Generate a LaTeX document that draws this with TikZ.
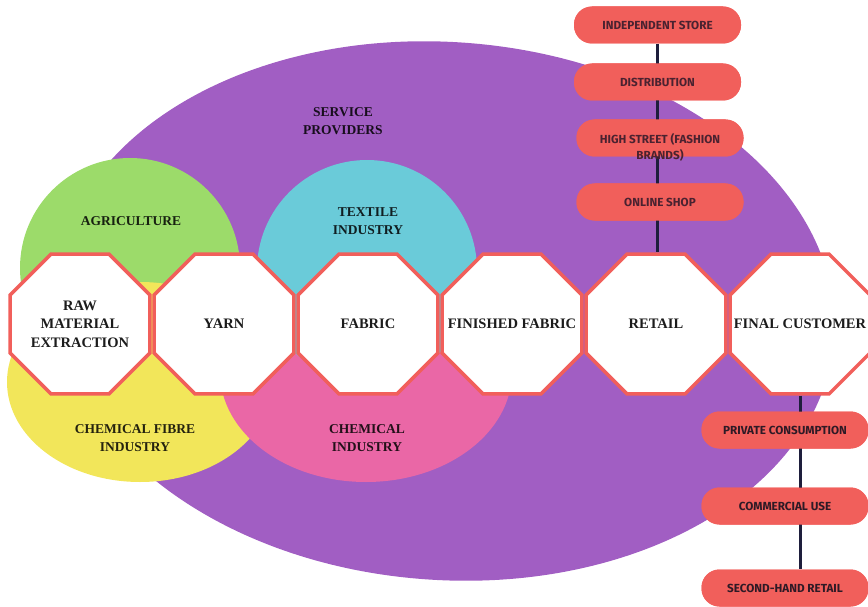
\documentclass[tikz,border=0pt]{standalone}
\usepackage{fontspec}
\setmainfont{Liberation Serif}
\newfontfamily\pillfont{Fira Sans}
\usetikzlibrary{shapes.geometric}
\definecolor{purp}{HTML}{A15EC3}
\definecolor{agr}{HTML}{9CDB6A}
\definecolor{cya}{HTML}{6ACBD9}
\definecolor{yel}{HTML}{F2E65A}
\definecolor{pnk}{HTML}{EA67A6}
\definecolor{redc}{HTML}{F15F5B}
\definecolor{octtext}{HTML}{1C1C1C}
\definecolor{linec}{HTML}{1E1E3C}
\definecolor{pilltop}{HTML}{4A2230}
\definecolor{pillbot}{HTML}{2E1A26}
\begin{document}
\begin{tikzpicture}[x=1pt,y=-1pt,
  octa/.style={regular polygon, regular polygon sides=8, minimum size=151.5pt,
    inner sep=0pt, draw=redc, line width=3.5pt, fill=white},
  octtxt/.style={align=center, inner sep=0pt, text=octtext,
    font=\fontsize{14.5}{18.5}\selectfont\bfseries},
  lab/.style={align=center, inner sep=0pt, font=\fontsize{13.5}{18}\selectfont\bfseries},
  pill/.style={rectangle, rounded corners=18pt, fill=redc, minimum width=167pt,
    minimum height=37pt, inner sep=0pt},
  pilltxt/.style={align=center, inner sep=0pt, text=pilltop,
    font=\pillfont\bfseries\fontsize{11.7}{16}\selectfont},
  pilltxtb/.style={pilltxt, text=pillbot},
  conn/.style={draw=linec, line width=3pt}]
\useasboundingbox (0,0) rectangle (868,607);
% background shapes
\fill[purp, rotate around={-4:(445,311)}] (445,311) ellipse [x radius=390, y radius=269];
\fill[agr] (130,268) circle [radius=110];
\fill[yel] (140,382) ellipse [x radius=133, y radius=100];
\fill[pnk] (366,372) ellipse [x radius=146, y radius=110];
\fill[cya] (367,270) circle [radius=110];
% labels
\node[lab, text=black!85!purp] (sp) at (343,121) {SERVICE\\PROVIDERS};
\node[lab, text=black!85!agr] (ag) at (131,221) {AGRICULTURE};
\node[lab, text=black!85!cya] (ti) at (368,221) {TEXTILE\\INDUSTRY};
\node[lab, text=black!85!yel] (cf) at (135,438) {CHEMICAL FIBRE\\INDUSTRY};
\node[lab, text=black!85!pnk] (ci) at (367,438) {CHEMICAL\\INDUSTRY};
% octagons
\node[octa] (o1) at (80,324) {};
\node[octa] (o2) at (224,324) {};
\node[octa] (o3) at (368,324) {};
\node[octa] (o4) at (512,324) {};
\node[octa] (o5) at (656,324) {};
\node[octa] (o6) at (800,324) {};
\node[octtxt] (s1) at (o1) {RAW\\MATERIAL\\EXTRACTION};
\node[octtxt] (s2) at (o2) {YARN};
\node[octtxt] (s3) at (o3) {FABRIC};
\node[octtxt] (s4) at (o4) {FINISHED FABRIC};
\node[octtxt] (s5) at (o5) {RETAIL};
\node[octtxt] (s6) at (o6) {FINAL CUSTOMER};
% pills
\node[pill] (r1) at (657.5,25) {};
\node[pill] (r2) at (657.5,82) {};
\node[pill] (r3) at (660,138) {};
\node[pill] (r4) at (660,202) {};
\node[pill] (c1) at (785,430) {};
\node[pill] (c2) at (785,506) {};
\node[pill] (c3) at (785,588) {};
% connectors
\draw[conn] (r1.south) -- (r1.south |- o5.north);
\draw[conn] (o6.south) -- (o6.south |- c3.north);
% pills above connectors
\foreach \p in {r1,r2,r3,r4,c1,c2,c3} {\node[pill] at (\p) {};}
% pill texts
\node[pilltxt] (t1) at (r1) {INDEPENDENT STORE};
\node[pilltxt] (t2) at (r2) {DISTRIBUTION};
\node[pilltxt, anchor=north] (t3) at (660,133) {HIGH STREET (FASHION\\BRANDS)};
\node[pilltxt] (t4) at (r4) {ONLINE SHOP};
\node[pilltxtb] (u1) at (c1) {PRIVATE CONSUMPTION};
\node[pilltxtb] (u2) at (c2) {COMMERCIAL USE};
\node[pilltxtb] (u3) at (c3) {SECOND-HAND RETAIL};
\end{tikzpicture}
\end{document}
